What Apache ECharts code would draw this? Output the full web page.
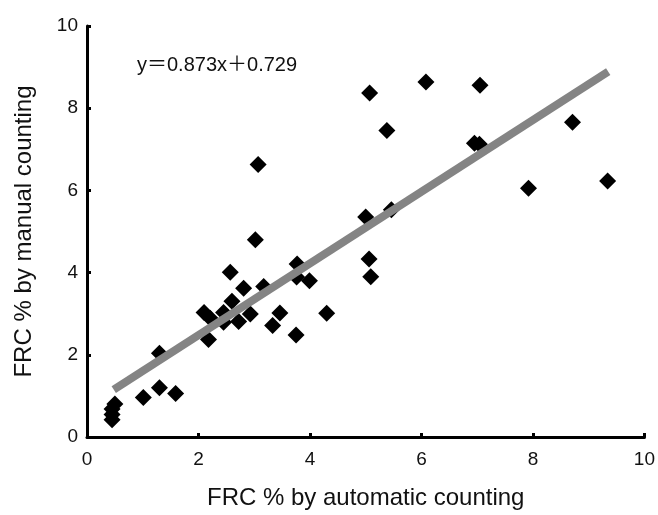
<!DOCTYPE html>
<html><head><meta charset="utf-8">
<script src="https://cdn.jsdelivr.net/npm/echarts@6/dist/echarts.min.js"></script>
<style>html,body{margin:0;padding:0;background:#fff}#c{width:658px;height:515px}</style>
</head><body><div id="c"></div>
<script>
const xValues = [0.50,0.45,0.45,0.45,1.01,1.30,1.30,1.59,2.10,2.18,2.21,2.45,2.45,2.57,2.60,2.72,2.81,2.93,3.02,3.07,3.17,3.33,3.46,3.75,3.76,3.77,3.99,4.30,5.00,5.06,5.07,5.09,5.38,5.46,6.08,6.95,7.04,7.05,7.92,8.71,9.34];
const yValues = [0.80,0.68,0.55,0.42,0.96,2.04,1.20,1.06,3.03,2.37,2.89,3.03,2.79,4.01,3.30,2.81,3.62,2.99,4.80,6.63,3.66,2.71,3.02,2.48,3.89,4.21,3.80,3.01,5.35,4.33,8.37,3.90,7.46,5.53,8.64,7.15,7.12,8.56,6.05,7.66,6.23];
const fitLine = [[0.48,1.15],[9.35,8.89]];
const xTicks = [0,2,4,6,8,10];
const yTicks = [0,2,4,6,8,10];
const equationText = 'y\uFF1D0.873x\uFF0B0.729';
const xName = 'FRC % by automatic counting';
const yName = 'FRC % by manual counting';

const points = xValues.map((x,i)=>[x,yValues[i]]);
const font = 'Liberation Sans, Arial, Helvetica, sans-serif';
const chart = echarts.init(document.getElementById('c'));
const axisCommon = {
  min: 0, max: 10, interval: 2,
  axisLine: {show: true, onZero: false, lineStyle: {color: '#000', width: 3}},
  axisTick: {show: true, inside: true, length: 4, lineStyle: {color: '#000', width: 3}},
  splitLine: {show: false},
  axisLabel: {color: '#111', fontSize: 19, fontFamily: font}
};
chart.setOption({
  animation: false,
  grid: {left: 87, right: 12, top: 26, bottom: 78},
  xAxis: Object.assign({}, axisCommon, {
    type: 'value',
    axisLabel: Object.assign({}, axisCommon.axisLabel, {margin: 13, formatter: v => xTicks.includes(v) ? String(v) : ''}),
    name: xName, nameLocation: 'middle', nameGap: 49,
    nameTextStyle: {color: '#111', fontSize: 24, fontFamily: font}
  }),
  yAxis: Object.assign({}, axisCommon, {
    type: 'value',
    axisLabel: Object.assign({}, axisCommon.axisLabel, {margin: 9, formatter: v => yTicks.includes(v) ? String(v) : ''}),
    name: yName, nameLocation: 'middle', nameGap: 51,
    nameTextStyle: {color: '#111', fontSize: 24, fontFamily: font}
  }),
  graphic: [{
    type: 'text', left: 137, top: 55,
    style: {text: equationText, fill: '#111', fontSize: 20, fontFamily: font + ', Noto Sans CJK SC'}
  }],
  series: [
    {type: 'scatter', data: points, symbol: 'diamond', symbolSize: [17,17],
     itemStyle: {color: '#000', opacity: 1}, z: 2},
    {type: 'line', data: fitLine, symbol: 'none', lineStyle: {color: '#848484', width: 8, cap: 'butt'}, z: 3}
  ]
});
</script></body></html>
